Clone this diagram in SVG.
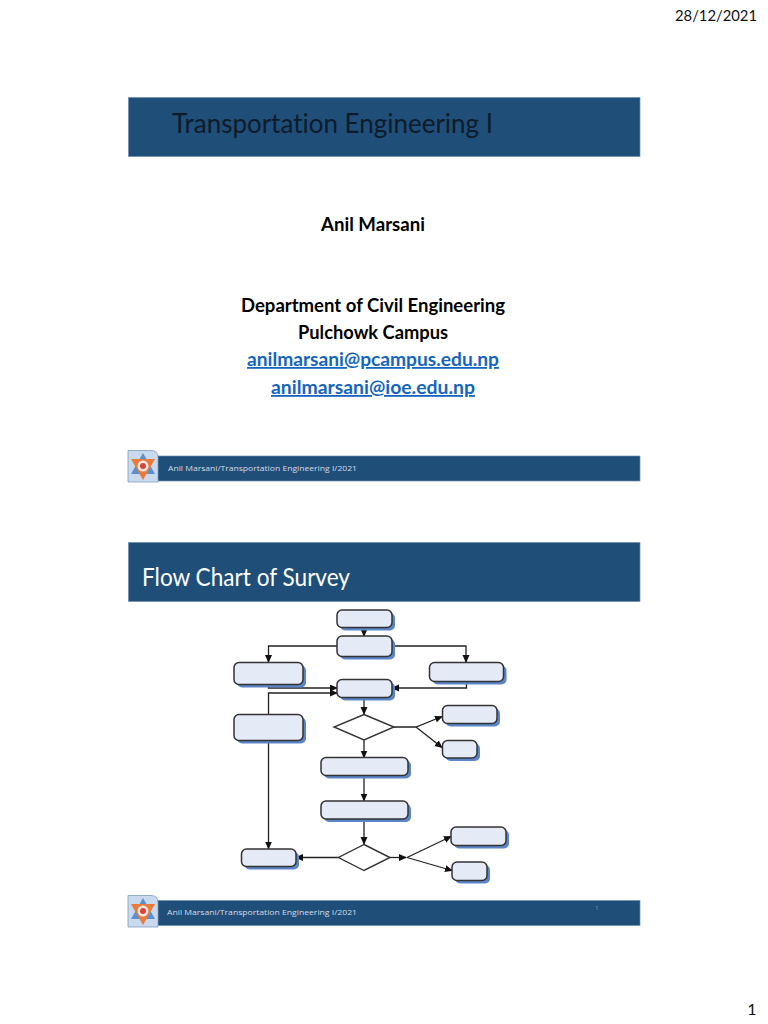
<svg xmlns="http://www.w3.org/2000/svg" width="768" height="1024" viewBox="0 0 768 1024">
<style>
text{font-variant-ligatures:none}
.band{fill:#1f4e79;stroke:#6d8fb3;stroke-width:.7}
.foot{font:8px "Open Sans",sans-serif;fill:#d5dde6}
.page{font:16px Lato,sans-serif;fill:#111}
.h{font-family:Lato,sans-serif;font-weight:700;font-size:18px;text-anchor:middle;fill:#000}
.lnk{fill:#1565c0;text-decoration:underline}
.n{fill:#e4ebf6;stroke:#333;stroke-width:1.5}
.s{fill:#5b85c8}
.d{fill:#fff;stroke:#333;stroke-width:1.4}
.c{fill:none;stroke:#222;stroke-width:1.3}
</style>
<defs>
<marker id="a" markerUnits="userSpaceOnUse" markerWidth="9" markerHeight="8" refX="7" refY="3.500" orient="auto"><path d="M0 0L8 3.500L0 7z" fill="#111"/></marker>
<g id="logo">
<path d="M0 .5H23Q30 .5 30 7V32H0z" fill="#c9d9ee" stroke="#7f9cc0" stroke-width=".8"/>
<path d="M15 3L27 24H3z" fill="#5b8fd0"/>
<path d="M15 30L27 9H3z" fill="#e97a3a"/>
<circle cx="15" cy="16" r="5.500" fill="#f6e4de"/>
<circle cx="15" cy="16" r="3" fill="#d8443c"/>
</g>
</defs>
<rect width="768" height="1024" fill="#fff"/>
<text class="page" x="675" y="21" textLength="82" lengthAdjust="spacingAndGlyphs">28/12/2021</text>
<text class="page" x="752" y="1015" text-anchor="middle">1</text>

<g id="slide1">
<rect class="band" x="128.500" y="97.500" width="511.500" height="59"/>
<text x="172" y="133" font-family="Lato,sans-serif" font-size="26" fill="#0d1b2a" textLength="321" lengthAdjust="spacingAndGlyphs">Transportation Engineering I</text>
<text class="h" x="373" y="231" textLength="104" lengthAdjust="spacingAndGlyphs">Anil Marsani</text>
<text class="h" x="373" y="312" textLength="264" lengthAdjust="spacingAndGlyphs">Department of Civil Engineering</text>
<text class="h" x="373" y="339" textLength="150" lengthAdjust="spacingAndGlyphs">Pulchowk Campus</text>
<text class="h lnk" x="373" y="366" textLength="252" lengthAdjust="spacingAndGlyphs">anilmarsani@pcampus.edu.np</text>
<text class="h lnk" x="373" y="394" textLength="204" lengthAdjust="spacingAndGlyphs">anilmarsani@ioe.edu.np</text>
<rect class="band" x="128.500" y="456" width="511.500" height="25"/>
<use href="#logo" x="128" y="450"/>
<text class="foot" x="168" y="471" textLength="189" lengthAdjust="spacingAndGlyphs">Anil Marsani/Transportation Engineering I/2021</text>
</g>

<g id="slide2">
<rect class="band" x="128.500" y="542.500" width="511.500" height="59"/>
<text x="142" y="586" font-family="Lato,sans-serif" font-size="25" fill="#fff" textLength="208" lengthAdjust="spacingAndGlyphs">Flow Chart of Survey</text>
<rect class="band" x="128.500" y="900.500" width="511.500" height="25"/>
<use href="#logo" x="128" y="895"/>
<text class="foot" x="167" y="915" textLength="190" lengthAdjust="spacingAndGlyphs">Anil Marsani/Transportation Engineering I/2021</text>
<text x="597" y="910" font-family="Open Sans,sans-serif" font-size="5" fill="#8fa8c2" text-anchor="middle">1</text>
</g>

<g id="connectors">
<path class="c" d="M364 627V636" marker-end="url(#a)"/>
<path class="c" d="M337 646H268.500V662" marker-end="url(#a)"/>
<path class="c" d="M392 646H466V662" marker-end="url(#a)"/>
<path class="c" d="M268.500 684V688H337" marker-end="url(#a)"/>
<path class="c" d="M466.500 681V688H392" marker-end="url(#a)"/>
<path class="c" d="M268.500 714V693H337" marker-end="url(#a)"/>
<path class="c" d="M364 697V714" marker-end="url(#a)"/>
<path class="c" d="M394 727H416L442 716.500" marker-end="url(#a)"/>
<path class="c" d="M416 727L442 747.500" marker-end="url(#a)"/>
<path class="c" d="M364 740V757.500" marker-end="url(#a)"/>
<path class="c" d="M364 775V800.500" marker-end="url(#a)"/>
<path class="c" d="M364 818V844" marker-end="url(#a)"/>
<path class="c" d="M268.500 740V848.500" marker-end="url(#a)"/>
<path class="c" d="M338.500 857.500H296" marker-end="url(#a)"/>
<path class="c" d="M390 857.500H406" marker-end="url(#a)"/>
<path class="c" d="M407 857.500L451 836.500" marker-end="url(#a)"/>
<path class="c" d="M407 857.500L452 870.500" marker-end="url(#a)"/>
</g>

<g id="n1"><rect class="s" x="340" y="613" width="55" height="17.500" rx="5"/><rect class="n" x="337" y="610" width="55" height="17.500" rx="5"/></g>
<g id="n2"><rect class="s" x="340" y="639" width="55" height="20.500" rx="5"/><rect class="n" x="337" y="636" width="55" height="20.500" rx="5"/></g>
<g id="n3"><rect class="s" x="237" y="665.500" width="69" height="22" rx="5"/><rect class="n" x="234" y="662.500" width="69" height="22" rx="5"/></g>
<g id="n4"><rect class="s" x="432.500" y="665.500" width="74" height="19" rx="5"/><rect class="n" x="429.500" y="662.500" width="74" height="19" rx="5"/></g>
<g id="n5"><rect class="s" x="340" y="682.500" width="55" height="18" rx="5"/><rect class="n" x="337" y="679.500" width="55" height="18" rx="5"/></g>
<g id="n6"><rect class="s" x="237" y="717.500" width="69" height="26" rx="5"/><rect class="n" x="234" y="714.500" width="69" height="26" rx="5"/></g>
<g id="d1"><path class="d" d="M364 714.500L394 727L364 740L334 727z"/></g>
<g id="n7"><rect class="s" x="445.500" y="708.500" width="54.500" height="18" rx="5"/><rect class="n" x="442.500" y="705.500" width="54.500" height="18" rx="5"/></g>
<g id="n8"><rect class="s" x="445.500" y="743.500" width="34.500" height="17.500" rx="5"/><rect class="n" x="442.500" y="740.500" width="34.500" height="17.500" rx="5"/></g>
<g id="n9"><rect class="s" x="324" y="760.500" width="87" height="18" rx="5"/><rect class="n" x="321" y="757.500" width="87" height="18" rx="5"/></g>
<g id="n10"><rect class="s" x="324" y="804" width="87" height="18" rx="5"/><rect class="n" x="321" y="801" width="87" height="18" rx="5"/></g>
<g id="d2"><path class="d" d="M364 844.500L390 857.500L364 870.500L338.500 857.500z"/></g>
<g id="n11"><rect class="s" x="244.500" y="852" width="54.500" height="17.500" rx="5"/><rect class="n" x="241.500" y="849" width="54.500" height="17.500" rx="5"/></g>
<g id="n12"><rect class="s" x="454" y="830" width="55" height="18.500" rx="5"/><rect class="n" x="451" y="827" width="55" height="18.500" rx="5"/></g>
<g id="n13"><rect class="s" x="455" y="865" width="35" height="18.500" rx="5"/><rect class="n" x="452" y="862" width="35" height="18.500" rx="5"/></g>
</svg>
